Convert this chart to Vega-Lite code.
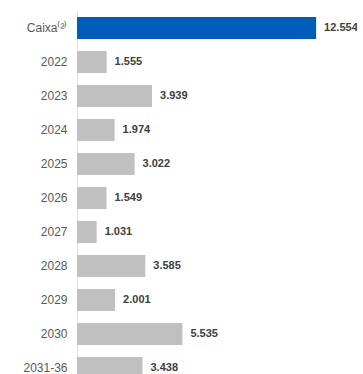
{
  "$schema": "https://vega.github.io/schema/vega-lite/v6.json",
  "autosize": {"type": "none"},
  "padding": {"left": 77, "top": 11, "right": 0, "bottom": 0},
  "width": 280,
  "height": {"step": 34},
  "background": "white",
  "data": {"values": [
    {"cat": "Caixa⁽²⁾", "v": 12.554, "label": "12.554", "g": "caixa"},
    {"cat": "2022", "v": 1.555, "label": "1.555", "g": "ano"},
    {"cat": "2023", "v": 3.939, "label": "3.939", "g": "ano"},
    {"cat": "2024", "v": 1.974, "label": "1.974", "g": "ano"},
    {"cat": "2025", "v": 3.022, "label": "3.022", "g": "ano"},
    {"cat": "2026", "v": 1.549, "label": "1.549", "g": "ano"},
    {"cat": "2027", "v": 1.031, "label": "1.031", "g": "ano"},
    {"cat": "2028", "v": 3.585, "label": "3.585", "g": "ano"},
    {"cat": "2029", "v": 2.001, "label": "2.001", "g": "ano"},
    {"cat": "2030", "v": 5.535, "label": "5.535", "g": "ano"},
    {"cat": "2031-36", "v": 3.438, "label": "3.438", "g": "ano"}
  ]},
  "encoding": {
    "y": {"field": "cat", "type": "nominal", "sort": null,
      "scale": {"paddingInner": 0.35, "paddingOuter": 0.175},
      "axis": {"title": null, "ticks": false, "labelPadding": 10, "labelFontSize": 12, "labelColor": "#595959", "labelFont": "Liberation Sans", "domainColor": "#e0e0e0", "domainWidth": 1}},
    "x": {"field": "v", "type": "quantitative", "scale": {"domain": [0, 14.7]}, "axis": null}
  },
  "layer": [
    {"mark": {"type": "bar"},
     "encoding": {"color": {"field": "g", "type": "nominal", "scale": {"domain": ["caixa", "ano"], "range": ["#005CB9", "#C0C0C0"]}, "legend": null}}},
    {"mark": {"type": "text", "align": "left", "dx": 8, "fontSize": 11, "fontWeight": "bold", "font": "Liberation Sans", "color": "#404040"},
     "encoding": {"text": {"field": "label"}}}
  ],
  "config": {"view": {"stroke": null}}
}
